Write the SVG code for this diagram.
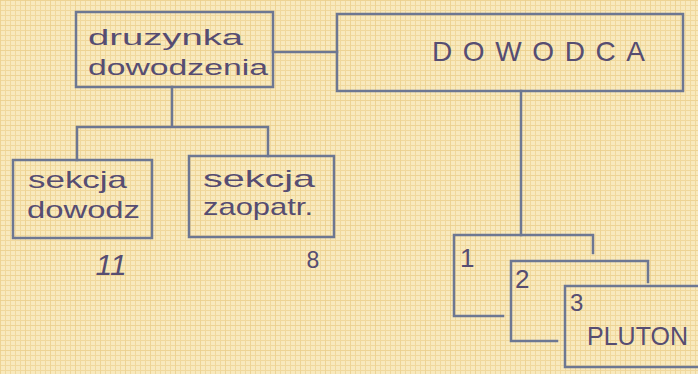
<svg xmlns="http://www.w3.org/2000/svg" width="698" height="374" viewBox="0 0 698 374">
  <defs>
    <pattern id="grid" width="5" height="5" patternUnits="userSpaceOnUse">
      <rect width="5" height="5" fill="#f8e9bd"/>
      <path d="M0 0.5H5M0.5 0V5" stroke="#f0d89c" stroke-width="1" fill="none"/>
    </pattern>
    <pattern id="grid2" width="25" height="25" patternUnits="userSpaceOnUse">
      <path d="M0 0.5H25M0.5 0V25" stroke="#e9cd8a" stroke-width="1" fill="none" opacity="0.5"/>
    </pattern>
  </defs>
  <style>
    .ln { fill: none; stroke: #6d7792; stroke-width: 2.5; stroke-linecap: square; }
    .tx { font-family: "Liberation Sans", "DejaVu Sans", sans-serif; fill: #564d72; }
  </style>
  <rect width="698" height="374" fill="url(#grid)"/>
  <rect width="698" height="374" fill="url(#grid2)"/>

  <g id="connectors">
    <path class="ln" d="M273 52H337"/>
    <path class="ln" d="M172 87V127M77 127H268M77 127V160M268 127V156"/>
    <path class="ln" d="M521 91V235"/>
  </g>

  <g id="druzynka">
    <rect class="ln" x="76" y="12" width="197" height="75"/>
    <text class="tx" x="88" y="45" font-size="22" textLength="155" lengthAdjust="spacingAndGlyphs">druzynka</text>
    <text class="tx" x="88" y="75" font-size="22" textLength="180" lengthAdjust="spacingAndGlyphs">dowodzenia</text>
  </g>

  <g id="dowodca">
    <rect class="ln" x="337" y="14" width="346" height="77"/>
    <text class="tx" x="432" y="61" font-size="28" textLength="213" lengthAdjust="spacing">DOWODCA</text>
  </g>

  <g id="sekcja-dowodz">
    <rect class="ln" x="13" y="160" width="139" height="78"/>
    <text class="tx" x="28" y="188" font-size="24" textLength="99" lengthAdjust="spacingAndGlyphs">sekcja</text>
    <text class="tx" x="27" y="218" font-size="24" textLength="113" lengthAdjust="spacingAndGlyphs">dowodz</text>
    <text class="tx" x="111" y="275" font-size="30" text-anchor="middle" font-style="italic">11</text>
  </g>

  <g id="sekcja-zaopatr">
    <rect class="ln" x="189" y="156" width="145" height="81"/>
    <text class="tx" x="203" y="187" font-size="24" textLength="112" lengthAdjust="spacingAndGlyphs">sekcja</text>
    <text class="tx" x="203" y="215" font-size="24" textLength="110" lengthAdjust="spacingAndGlyphs">zaopatr.</text>
    <text class="tx" x="313" y="268" font-size="23" text-anchor="middle">8</text>
  </g>

  <g id="pluton-1">
    <path class="ln" d="M503 316H454V235H593V253"/>
    <text class="tx" x="460" y="267" font-size="26">1</text>
  </g>

  <g id="pluton-2">
    <path class="ln" d="M557 341H511V261H648V282"/>
    <text class="tx" x="515" y="288" font-size="26">2</text>
  </g>

  <g id="pluton-3">
    <path class="ln" d="M697 286H565V367H697"/>
    <text class="tx" x="570" y="311" font-size="24">3</text>
    <text class="tx" x="587" y="345" font-size="25">PLUTON</text>
  </g>
</svg>
